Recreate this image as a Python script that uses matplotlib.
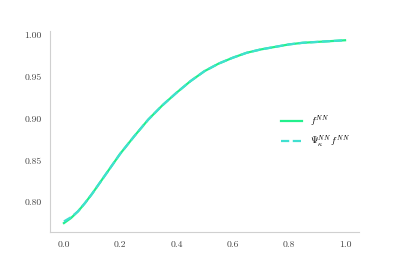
import numpy as np
import matplotlib
matplotlib.use("Agg")
import matplotlib.pyplot as plt

plt.rcParams['font.family'] = 'serif'
plt.rcParams['font.serif'] = ['cmr10']
plt.rcParams['mathtext.fontset'] = 'cm'
plt.rcParams['axes.formatter.use_mathtext'] = True

# values
x = [0.0, 0.025, 0.05, 0.075, 0.1, 0.125, 0.15, 0.175, 0.2, 0.25, 0.3, 0.35, 0.4, 0.45, 0.5,
     0.55, 0.6, 0.65, 0.7, 0.75, 0.8, 0.85, 0.9, 0.95, 1.0]
f_nn = [0.775, 0.781, 0.789, 0.799, 0.810, 0.822, 0.834, 0.846, 0.858, 0.879, 0.899, 0.916,
        0.931, 0.945, 0.957, 0.966, 0.973, 0.979, 0.983, 0.986, 0.989, 0.991, 0.992, 0.993, 0.994]
psi_f_nn = [0.777, 0.782, 0.789, 0.799, 0.810, 0.822, 0.834, 0.846, 0.858, 0.879, 0.899, 0.916,
            0.931, 0.945, 0.957, 0.966, 0.973, 0.979, 0.983, 0.986, 0.989, 0.991, 0.992, 0.993, 0.994]

fig, ax = plt.subplots(figsize=(3.99, 2.66), dpi=100)
fig.subplots_adjust(left=0.125, right=0.9, bottom=0.127, top=0.883)

ax.plot(x, f_nn, color='#22f08c', lw=1.6, label=r'$f^{NN}$')
ax.plot(x, psi_f_nn, color='#40e0d0', lw=1.6, ls='--', label=r'$\Psi_\kappa^{NN}\, f^{NN}$')

for s in ['top', 'right']:
    ax.spines[s].set_visible(False)
for s in ['left', 'bottom']:
    ax.spines[s].set_color('#d0d0d0')
ax.tick_params(length=0, labelsize=7, colors='#444444', pad=6)
ax.set_xticks([0.0, 0.2, 0.4, 0.6, 0.8, 1.0])
ax.set_yticks([0.80, 0.85, 0.90, 0.95, 1.00])
ax.yaxis.set_major_formatter(matplotlib.ticker.FormatStrFormatter('%.2f'))
ax.xaxis.set_major_formatter(matplotlib.ticker.FormatStrFormatter('%.1f'))

ax.legend(loc='center right', frameon=False, fontsize=7, handlelength=2.2)

fig.savefig('out.png', dpi=100)
